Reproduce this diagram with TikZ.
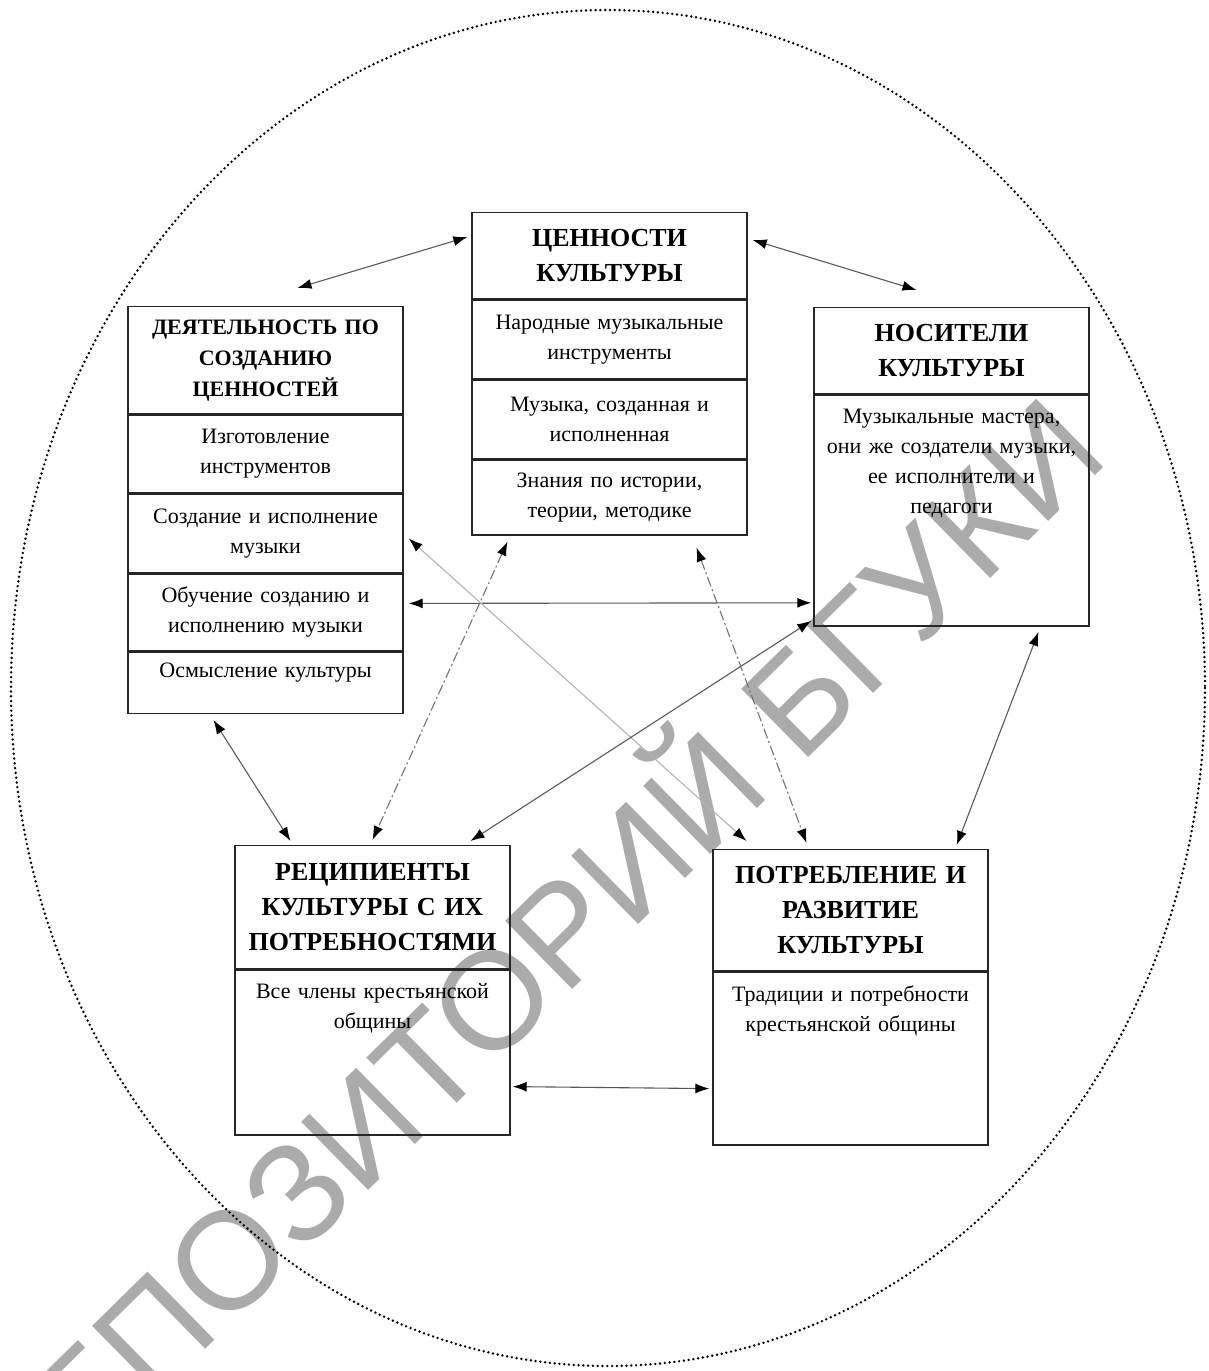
\documentclass[tikz,border=0pt]{standalone}
\usepackage{fontspec}
\setmainfont{Liberation Serif}
\newfontfamily\markfont{Liberation Sans}
\usetikzlibrary{positioning,calc,arrows.meta}

\newcommand{\headfont}{\fontsize{26}{35}\selectfont\bfseries}
\newcommand{\smallheadfont}{\fontsize{22}{31}\selectfont\bfseries}
\newcommand{\cellfont}{\fontsize{22}{30}\selectfont}

\tikzstyle{box}=[draw=black!85,line width=1.4pt,text width=265pt,inner xsep=5pt,inner ysep=0pt,align=center]
\tikzstyle{head}=[box,font=\headfont]
\tikzstyle{cell}=[box,font=\cellfont]
\tikzstyle{celltext}=[text width=265pt,inner xsep=5pt,inner ysep=14pt,align=center,font=\cellfont,anchor=north]
\tikzstyle{link}=[{Latex[length=14pt,width=10pt,color=black]}-{Latex[length=14pt,width=10pt,color=black]},draw=black!65,line width=1.1pt]
\tikzstyle{faintlink}=[link,draw=black!30]
\tikzstyle{dashlink}=[link,draw=black!55,dash pattern=on 10pt off 3pt on 2pt off 3pt]

\begin{document}
\begin{tikzpicture}[x=1pt,y=-1pt]
\useasboundingbox (0,0) rectangle (1208,1371);
% watermark
\node[rotate=44.5,text=black!33,font=\markfont\fontsize{139}{139}\selectfont] (mark) at (522,952) {РЕПОЗИТОРИЙ БГУКИ};
% dotted frame
\draw[line width=2.7pt,dash pattern=on 0pt off 4.8pt,line cap=round] (608,688) ellipse [x radius=597,y radius=678];
% values
\node[head,minimum height=86pt,anchor=north] (val_h) at (609.5,212) {ЦЕННОСТИ\\КУЛЬТУРЫ};
\node[cell,minimum height=79pt,below=0pt of val_h] (val_1) {Народные музыкальные\\инструменты};
\node[cell,minimum height=78pt,below=0pt of val_1] (val_2) {Музыка, созданная и\\исполненная};
\node[cell,minimum height=75pt,below=0pt of val_2] (val_3) {Знания по истории,\\теории, методике};
% activity
\node[head,font=\smallheadfont,minimum height=107pt,anchor=north] (act_h) at (265.5,306) {ДЕЯТЕЛЬНОСТЬ ПО\\СОЗДАНИЮ\\ЦЕННОСТЕЙ};
\node[cell,minimum height=78pt,below=0pt of act_h] (act_1) {Изготовление\\инструментов};
\node[cell,minimum height=78pt,below=0pt of act_1] (act_2) {Создание и исполнение\\музыки};
\node[cell,minimum height=77pt,below=0pt of act_2] (act_3) {Обучение созданию и\\исполнению музыки};
\node[box,minimum height=61pt,below=0pt of act_3,label={[celltext,inner ysep=11pt]north:{Осмысление культуры}}] (act_4) {};
% carriers
\node[head,minimum height=86pt,anchor=north] (car_h) at (951.5,307) {НОСИТЕЛИ\\КУЛЬТУРЫ};
\node[box,minimum height=231pt,below=0pt of car_h,label={[celltext]north:{Музыкальные мастера,\\они же создатели музыки,\\ее исполнители и\\педагоги}}] (car_b) {};
% recipients
\node[head,minimum height=123pt,anchor=north] (rec_h) at (372.5,845) {РЕЦИПИЕНТЫ\\КУЛЬТУРЫ С ИХ\\ПОТРЕБНОСТЯМИ};
\node[box,minimum height=165pt,below=0pt of rec_h,label={[celltext]north:{Все члены крестьянской\\общины}}] (rec_b) {};
% consumption
\node[head,minimum height=121pt,anchor=north] (con_h) at (850.5,849) {ПОТРЕБЛЕНИЕ И\\РАЗВИТИЕ\\КУЛЬТУРЫ};
\node[box,minimum height=173pt,below=0pt of con_h,label={[celltext]north:{Традиции и потребности\\крестьянской общины}}] (con_b) {};
% links
\draw[link] ($(val_h.north west)+(-4,25)$) -- ($(act_h.north)+(32,-18)$);
\draw[link] ($(val_h.north east)+(5,28)$) -- ($(car_h.north)+(-35,-17)$);
\draw[link] ($(act_3.east)+(5,-9)$) -- ($(car_b.south west)+(-2,-24)$);
\draw[faintlink] ($(act_2.east)+(5,5)$) -- ($(con_h.north)+(-104,-8)$);
\draw[dashlink] ($(val_3.south)+(-102,6)$) -- ($(rec_h.north)+(0,-5)$);
\draw[dashlink] ($(val_3.south)+(87,12)$) -- ($(con_h.north)+(-44,-6)$);
\draw[link] ($(car_b.south west)+(-2,-6)$) -- ($(rec_h.north)+(98,-4)$);
\draw[link] ($(act_4.south)+(-52,6)$) -- ($(rec_h.north)+(-82,-4)$);
\draw[link] ($(car_b.south)+(87,5)$) -- ($(con_h.north east)+(-32,-4)$);
\draw[link] ($(rec_b.east)+(2,34)$) -- ($(con_b.west)+(-3,30)$);
\end{tikzpicture}
\end{document}
